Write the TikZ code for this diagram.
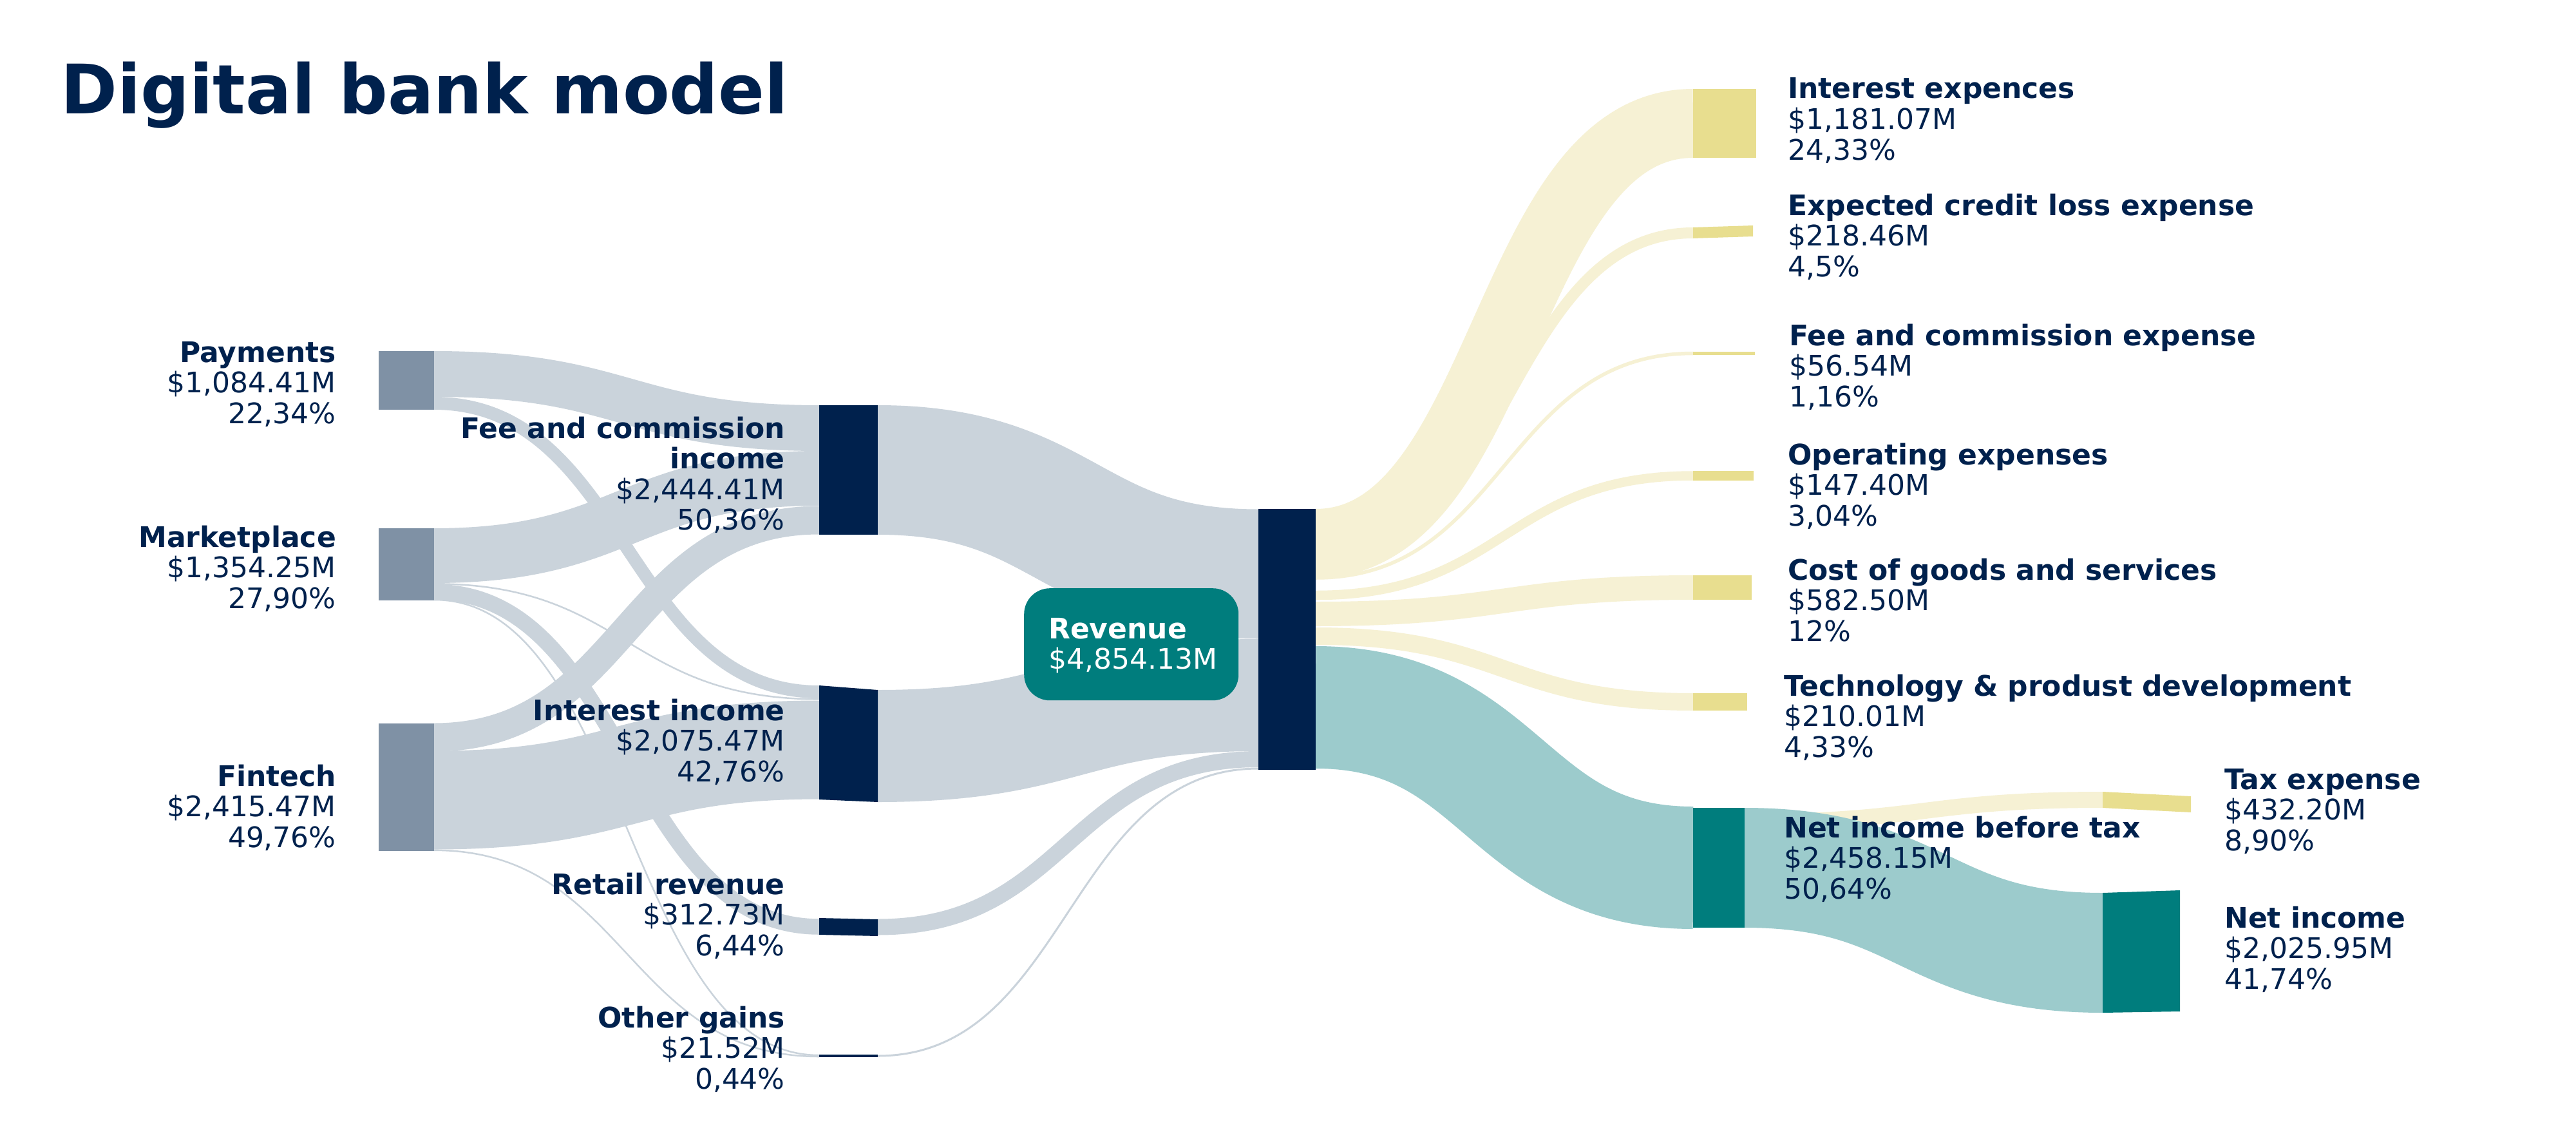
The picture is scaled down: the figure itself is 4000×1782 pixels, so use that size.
\documentclass[tikz,border=0pt]{standalone}
\usepackage{fontspec}
\setmainfont{DejaVu Sans}
\definecolor{navy}{HTML}{00214D}
\definecolor{srcbar}{HTML}{7F91A5}
\definecolor{gflow}{HTML}{CAD3DB}
\definecolor{yflow}{HTML}{F6F1D4}
\definecolor{yellowbar}{HTML}{E8DE8F}
\definecolor{tealc}{HTML}{007D7D}
\definecolor{tflow}{HTML}{9CCBCC}
\tikzset{
  lbl/.style={inner sep=0pt, text=navy, font=\fontsize{44}{47.5}\selectfont},
  ybarfill/.style={fill=yellowbar},
}
% stroked sankey link: colour, x0, y0, x1, y1, width
\newcommand\sflow[6]{%
  \pgfmathsetmacro\fxm{(#2+#4)/2}%
  \draw[#1, line width=#6pt] (#2,#3) .. controls (\fxm,#3) and (\fxm,#5) .. (#4,#5);%
}
\newcommand\labR[5]{\node[lbl, anchor=base east] (#1) at (#2,#3)
  {\begin{tabular}[t]{@{}r@{}}\textbf{#4}\\#5\end{tabular}};}
\newcommand\labL[5]{\node[lbl, anchor=base west] (#1) at (#2,#3)
  {\begin{tabular}[t]{@{}l@{}}\textbf{#4}\\#5\end{tabular}};}
\begin{document}
\begin{tikzpicture}[x=1pt,y=-1pt]
\useasboundingbox (0,0) rectangle (4000,1782);
\fill[white] (0,0) rectangle (4000,1782);

% ---- flows: sources -> income types
\sflow{gflow}{674}{580.5}{1272}{664.5}{71}
\sflow{gflow}{674}{626}{1272}{1074}{20}
\sflow{gflow}{674}{862.5}{1272}{742.5}{85}
\sflow{gflow}{674}{906.3}{1272}{1085.3}{2.5}
\sflow{gflow}{674}{919}{1272}{1438.5}{24.5}
\sflow{gflow}{674}{931}{1272}{1638}{2.5}
\sflow{gflow}{674}{1144.5}{1272}{807.5}{44}
\sflow{gflow}{674}{1242}{1272}{1164}{153}
\sflow{gflow}{674}{1319.8}{1272}{1640}{2.5}
% ---- income types -> revenue
\sflow{gflow}{1363}{729.5}{1954}{891}{201}
\sflow{gflow}{1363}{1158}{1954}{1079}{174}
\sflow{gflow}{1363}{1439}{1954}{1178.5}{25}
\sflow{gflow}{1363}{1639}{1954}{1193}{3}
% ---- revenue -> expenses / net income before tax
\sflow{yflow}{2043}{843.5}{2629}{191.5}{107}
\sflow{yflow}{2043}{889}{2629}{361.5}{17}
\sflow{yflow}{2043}{897}{2629}{548.5}{5.5}
\sflow{yflow}{2043}{924}{2629}{738.5}{14.5}
\sflow{yflow}{2043}{953}{2629}{912}{38}
\sflow{yflow}{2043}{987.5}{2629}{1089.5}{27}
\sflow{tflow}{2043}{1098}{2629}{1347}{190}
% ---- net income before tax -> tax / net income
\sflow{yflow}{2709}{1276}{3265}{1241.5}{25}
\sflow{tflow}{2709}{1347}{3265}{1479}{186}

% ---- bars
\fill[srcbar] (588,545) rectangle (674,636);
\fill[srcbar] (588,820) rectangle (674,932);
\fill[srcbar] (588,1123) rectangle (674,1321);
\fill[navy] (1272,629) rectangle (1363,830);
\fill[navy] (1272,1064) -- (1363,1071) -- (1363,1245) -- (1272,1241) -- cycle;
\fill[navy] (1272,1425) -- (1363,1427) -- (1363,1453) -- (1272,1451) -- cycle;
\fill[navy] (1272,1637) rectangle (1363,1641);
\fill[navy] (1954,790) rectangle (2043,1195);
\fill[ybarfill] (2629,138) rectangle (2727,245);
\fill[ybarfill] (2629,353) -- (2722,350) -- (2722,367) -- (2629,370) -- cycle;
\fill[ybarfill] (2629,546) rectangle (2725,551);
\fill[ybarfill] (2629,731) rectangle (2723,746);
\fill[ybarfill] (2629,893) rectangle (2720,931);
\fill[ybarfill] (2629,1076) rectangle (2713,1103);
\fill[tealc] (2629,1254) rectangle (2709,1440);
\fill[ybarfill] (3265,1229) -- (3402,1236) -- (3402,1261) -- (3265,1254) -- cycle;
\fill[tealc] (3265,1386) -- (3385,1382) -- (3385,1570) -- (3265,1572) -- cycle;

% ---- revenue box
\node[fill=tealc, rounded corners=40pt, minimum width=333pt, minimum height=174pt,
      inner sep=0pt, anchor=north west] (revbox) at (1590,913) {};
\node[lbl, text=white, anchor=base west] (revtxt) at (1628,991)
  {\begin{tabular}[t]{@{}l@{}}\textbf{Revenue}\\\$4,854.13M\end{tabular}};

% ---- title
\node[inner sep=0pt, anchor=base west, text=navy,
      font=\fontsize{106}{110}\selectfont\bfseries] (title) at (94,176) {Digital bank model};

% ---- labels left
\labR{lpay}{522}{562}{Payments}{\$1,084.41M\\22,34\%}
\labR{lmkt}{522}{849}{Marketplace}{\$1,354.25M\\27,90\%}
\labR{lfin}{522}{1220}{Fintech}{\$2,415.47M\\49,76\%}
% ---- labels middle
\node[lbl, anchor=base east] (lfee) at (1219,680)
  {\begin{tabular}[t]{@{}r@{}}\textbf{Fee and commission}\\\textbf{income}\\\$2,444.41M\\50,36\%\end{tabular}};
\labR{lint}{1219}{1118}{Interest income}{\$2,075.47M\\42,76\%}
\labR{lret}{1219}{1388}{Retail revenue}{\$312.73M\\6,44\%}
\labR{loth}{1219}{1595}{Other gains}{\$21.52M\\0,44\%}
% ---- labels right
\labL{lie}{2776}{153}{Interest expences}{\$1,181.07M\\24,33\%}
\labL{lecl}{2776}{334}{Expected credit loss expense}{\$218.46M\\4,5\%}
\labL{lfce}{2778}{536}{Fee and commission expense}{\$56.54M\\1,16\%}
\labL{lopx}{2776}{721}{Operating expenses}{\$147.40M\\3,04\%}
\labL{lcogs}{2776}{900}{Cost of goods and services}{\$582.50M\\12\%}
\labL{ltech}{2770}{1080}{Technology \& produst development}{\$210.01M\\4,33\%}
\labL{lnibt}{2770}{1300}{Net income before tax}{\$2,458.15M\\50,64\%}
\labL{ltax}{3454}{1225}{Tax expense}{\$432.20M\\8,90\%}
\labL{lni}{3454}{1440}{Net income}{\$2,025.95M\\41,74\%}
\end{tikzpicture}
\end{document}
